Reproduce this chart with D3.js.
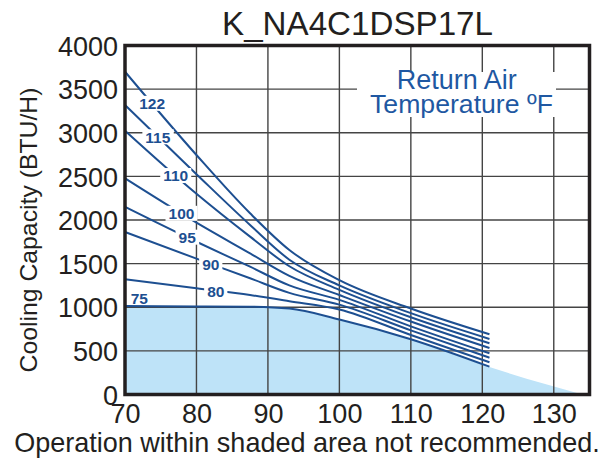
<!DOCTYPE html>
<html><head><meta charset="utf-8">
<script src="https://cdn.jsdelivr.net/npm/d3@7"></script>
<style>body{margin:0;background:#fff}</style>
</head><body>
<svg id="c" width="608" height="459"></svg>
<script>
// ---- data ----
const ambientTemps = [70, 80, 87.5, 93, 100, 110, 121];
const returnTemps = ["122", "115", "110", "100", "95", "90", "80", "75"];
const cap122 = [3700, 2745, 2077, 1656, 1310, 985, 690];
const cap115 = [3318, 2525, 1943, 1545, 1250, 932, 637];
const cap110 = [3023, 2300, 1809, 1470, 1200, 885, 587];
const cap100 = [2478, 1970, 1618, 1360, 1140, 836, 533];
const cap95  = [2152, 1751, 1465, 1250, 1085, 781, 472];
const cap90  = [1862, 1557, 1332, 1165, 1030, 735, 422];
const cap80  = [1320, 1217, 1140, 1070, 975, 682, 369];
const cap75  = [1014, 1010, 1006, 985, 860, 634, 319];
const labelTemps = [73.8, 74.6, 77.1, 77.9, 78.7, 82, 82.7, 72];
const shadeTemps = [70, 90, 93, 100, 110, 121, 134];
const shadeCap = [1000, 1000, 980, 855, 630, 315, 0];
const xTicks = [70, 80, 90, 100, 110, 120, 130];
const yTicks = [0, 500, 1000, 1500, 2000, 2500, 3000, 3500, 4000];
const titleText = "K_NA4C1DSP17L";
const yTitle = "Cooling Capacity (BTU/H)";
const legendLines = ["Return Air", "Temperature ºF"];
const footnote = "Operation within shaded area not recommended.";

const series = [cap122, cap115, cap110, cap100, cap95, cap90, cap80, cap75];

// ---- layout ----
const FONT = "'Liberation Sans', Arial, sans-serif";
const L = 125, R = 589.5, T = 45.5, B = 394.5;
const svg = d3.select("#c");
const x = d3.scaleLinear().domain([70, 135]).range([L, R]);
const y = d3.scaleLinear().domain([0, 4000]).range([B, T]);
const lineBlue = "#1d4f91";

function fit(sel, w) {
  const l = sel.node().getComputedTextLength();
  const fs = parseFloat(sel.attr("font-size"));
  sel.attr("font-size", fs * w / l);
}

// shade
const shadePts = shadeTemps.map((t, i) => [t, shadeCap[i]]);
svg.append("path")
  .attr("d", d3.area().x(d => x(d[0])).y0(y(0)).y1(d => y(d[1])).curve(d3.curveMonotoneX)(shadePts))
  .attr("fill", "#bee3f8");

// gridlines
const g = svg.append("g").attr("stroke", "#444").attr("stroke-width", 1.4);
xTicks.slice(1).forEach(t => g.append("line").attr("x1", x(t)).attr("x2", x(t)).attr("y1", T).attr("y2", B));
yTicks.slice(1, -1).forEach(v => g.append("line").attr("x1", L).attr("x2", R).attr("y1", y(v)).attr("y2", y(v)));

// curves
const line = d3.line().x(d => x(d[0])).y(d => y(d[1])).curve(d3.curveMonotoneX);
series.forEach(s => {
  svg.append("path").attr("d", line(ambientTemps.map((t, i) => [t, s[i]])))
    .attr("fill", "none").attr("stroke", lineBlue).attr("stroke-width", 2);
});

// curve labels
series.forEach((s, i) => {
  const interp = d3.scaleLinear().domain(ambientTemps).range(s);
  const lx = x(labelTemps[i]);
  let ly = y(interp(labelTemps[i]));
  const isLast = i === series.length - 1;
  if (isLast) ly -= 8;
  const tg = svg.append("g");
  const txt = tg.append("text").attr("x", lx).attr("y", ly + 5.8)
    .attr("text-anchor", "middle").attr("font-family", FONT).attr("font-weight", 700)
    .attr("font-size", 15.5).attr("fill", lineBlue).text(returnTemps[i]);
  if (!isLast) {
    const bb = txt.node().getBBox();
    tg.insert("rect", "text").attr("x", bb.x - 3).attr("y", ly - 7.5).attr("width", bb.width + 6).attr("height", 15).attr("fill", "#fff");
  }
});

// legend
svg.append("rect").attr("x", 357).attr("y", 72).attr("width", 199).attr("height", 45).attr("fill", "#fff");
const lg1 = svg.append("text").attr("x", 456.7).attr("y", 89.3).attr("text-anchor", "middle")
  .attr("font-family", FONT).attr("font-size", 22).attr("fill", "#1f58a2").text(legendLines[0]);
fit(lg1, 120);
const lg2 = svg.append("text").attr("x", 461.5).attr("y", 112.7).attr("text-anchor", "middle")
  .attr("font-family", FONT).attr("font-size", 22).attr("fill", "#1f58a2").text(legendLines[1]);
fit(lg2, 183);

// frame
svg.append("rect").attr("x", L).attr("y", T).attr("width", R - L).attr("height", B - T)
  .attr("fill", "none").attr("stroke", "#231f20").attr("stroke-width", 3.5);

// axes tick labels
const xa = svg.append("g").attr("transform", `translate(0,${B})`)
  .call(d3.axisBottom(x).tickValues(xTicks).tickSize(0).tickPadding(0).tickFormat(d3.format("d")));
xa.select(".domain").remove();
xa.selectAll("text").attr("font-family", FONT).attr("font-size", 27).attr("fill", "#231f20")
  .attr("dy", null).attr("y", 28);

const ya = svg.append("g").attr("transform", `translate(${L},0)`)
  .call(d3.axisLeft(y).tickValues(yTicks).tickSize(0).tickPadding(7).tickFormat(d3.format("d")));
ya.select(".domain").remove();
ya.selectAll("text").attr("font-family", FONT).attr("font-size", 27).attr("fill", "#231f20").attr("dy", "0.36em");

// title
const tt = svg.append("text").attr("x", 357.5).attr("y", 35).attr("text-anchor", "middle")
  .attr("font-family", FONT).attr("font-size", 33).attr("fill", "#231f20").text(titleText);
fit(tt, 271);

// y title
const yt = svg.append("text").attr("transform", "translate(36.5,230) rotate(-90)").attr("text-anchor", "middle")
  .attr("font-family", FONT).attr("font-size", 26).attr("fill", "#231f20").text(yTitle);
fit(yt, 285);

// footnote
const fn = svg.append("text").attr("x", 307).attr("y", 452).attr("text-anchor", "middle")
  .attr("font-family", FONT).attr("font-size", 26).attr("fill", "#231f20").text(footnote);
fit(fn, 586);
</script>
</body></html>
